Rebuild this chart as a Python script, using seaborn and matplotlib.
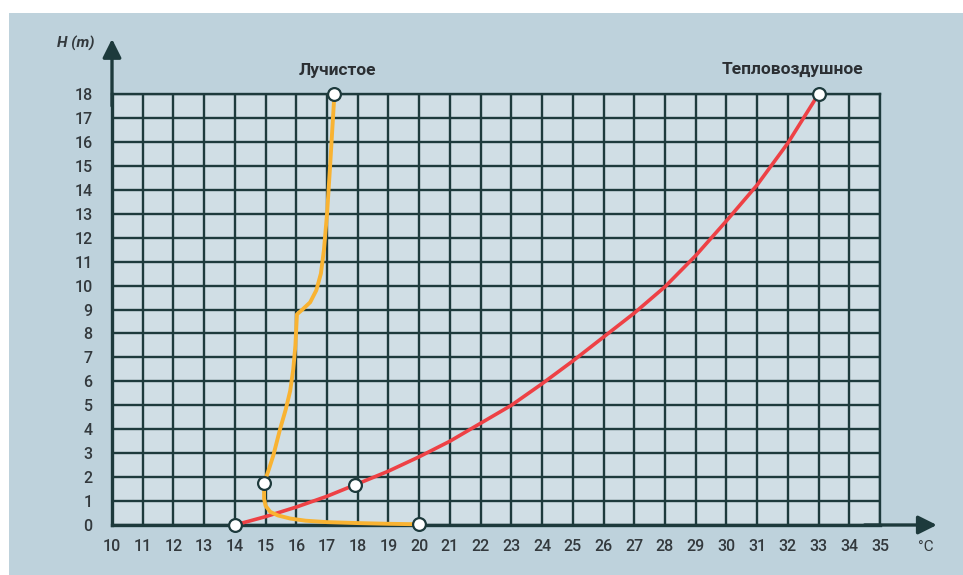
import matplotlib

matplotlib.use("Agg")
import matplotlib.pyplot as plt
import pandas as pd
import seaborn as sns
from matplotlib.patches import Rectangle


# heating profiles: temperature (°C) against height above the floor (m)
RADIANT_LABEL = "Лучистое"
RADIANT_T = [20.0, 19.0, 18.0, 17.0, 16.3, 15.8, 15.4, 15.15, 15.0, 14.95, 14.95,
             15.1, 15.25, 15.47, 15.65, 15.8, 15.9, 15.97, 16.02, 16.2, 16.45,
             16.65, 16.8, 16.9, 17.0, 17.1, 17.17, 17.24]
RADIANT_H = [0.03, 0.05, 0.08, 0.12, 0.18, 0.27, 0.4, 0.55, 0.8, 1.1, 1.75,
             2.3, 2.9, 4.0, 4.8, 5.6, 6.5, 7.5, 8.8, 9.0, 9.3,
             9.8, 10.5, 11.5, 13.0, 15.0, 16.5, 18.0]
RADIANT_MARK_T = [20.0, 14.95, 17.24]
RADIANT_MARK_H = [0.03, 1.75, 18.0]

AIR_LABEL = "Тепловоздушное"
AIR_T = [14, 15, 16, 17, 17.9, 19, 20, 21, 22, 23, 24, 25, 26, 27, 28, 29, 30, 31, 32, 33]
AIR_H = [0.0, 0.35, 0.75, 1.2, 1.67, 2.25, 2.85, 3.5, 4.25, 5.0, 5.9, 6.85, 7.85,
         8.85, 9.95, 11.25, 12.7, 14.2, 15.95, 18.0]
AIR_MARK_T = [14, 17.9, 33]
AIR_MARK_H = [0.0, 1.67, 18.0]

X_TICKS = list(range(10, 36))
Y_TICKS = list(range(0, 19))

PANEL = "#bed2dc"
PLOT_BG = "#d0dee5"
INK = "#1d3a3c"
TEXT = "#33393d"
ORANGE = "#f9b332"
RED = "#ee4145"

W, H = 963, 575

sns.set_theme(style="white")
plt.rcParams["font.family"] = ["Roboto", "DejaVu Sans"]

fig = plt.figure(figsize=(W / 100, H / 100), dpi=100, facecolor="white")
fig.patches.append(Rectangle((9 / W, 0), 1 - 9 / W, 1 - 13 / H,
                             transform=fig.transFigure, facecolor=PANEL,
                             edgecolor="none", zorder=-10))

left, right, bottom, top = 112 / W, 880 / W, 1 - 525 / H, 1 - 94 / H
ax = fig.add_axes([left, bottom, right - left, top - bottom])
ax.set_facecolor(PLOT_BG)

radiant = pd.DataFrame({"t": RADIANT_T, "h": RADIANT_H})
air = pd.DataFrame({"t": AIR_T, "h": AIR_H})
marks = pd.DataFrame({"t": RADIANT_MARK_T + AIR_MARK_T,
                      "h": RADIANT_MARK_H + AIR_MARK_H})

sns.lineplot(data=air, x="t", y="h", sort=False, estimator=None, color=RED,
             lw=2.6, ax=ax, zorder=4, clip_on=False)
sns.lineplot(data=radiant, x="t", y="h", sort=False, estimator=None, color=ORANGE,
             lw=2.8, ax=ax, zorder=4, clip_on=False)
sns.scatterplot(data=marks, x="t", y="h", s=85, color="white", edgecolor=INK,
                linewidth=1.6, ax=ax, zorder=6, clip_on=False)

ax.set_xlim(10, 35)
ax.set_ylim(0, 18)
ax.set_xticks(X_TICKS)
ax.set_yticks(Y_TICKS)
ax.set_xticklabels([str(v) for v in X_TICKS], color=TEXT, fontsize=11.5,
                   fontweight="medium")
ax.set_yticklabels([str(v) for v in Y_TICKS], color=TEXT, fontsize=11.5,
                   fontweight="medium")
ax.tick_params(axis="x", length=0, pad=10)
ax.tick_params(axis="y", length=0, pad=14)
ax.grid(True, color=INK, lw=1.7)
ax.set_axisbelow(True)
for side, spine in ax.spines.items():
    spine.set_color(INK)
    spine.set_linewidth(1.7 if side in ("top", "right") else 2.4)
ax.set_xlabel("")
ax.set_ylabel("")

# axis arrows
ax.annotate("", xy=(10, 20.3), xytext=(10, 17.5), annotation_clip=False,
            arrowprops=dict(arrowstyle="-|>", color=INK, lw=2.4,
                            mutation_scale=28, shrinkA=0, shrinkB=0))
ax.annotate("", xy=(36.85, 0), xytext=(34.5, 0), annotation_clip=False,
            arrowprops=dict(arrowstyle="-|>", color=INK, lw=2.4,
                            mutation_scale=28, shrinkA=0, shrinkB=0))

ax.text(36.5, -0.9, "°C", color=TEXT, fontsize=11, ha="center", va="center")
fig.text(76 / W, 1 - 43 / H, "H (m)", color=TEXT, fontsize=11, style="italic",
         fontweight="bold", ha="center", va="center")
fig.text(337 / W, 1 - 70 / H, RADIANT_LABEL, color="#2b2f33", fontsize=12.5,
         fontweight="bold", ha="center", va="center")
fig.text(792 / W, 1 - 69 / H, AIR_LABEL, color="#2b2f33", fontsize=12.5,
         fontweight="bold", ha="center", va="center")

fig.savefig("out.png", dpi=100, facecolor=fig.get_facecolor())
